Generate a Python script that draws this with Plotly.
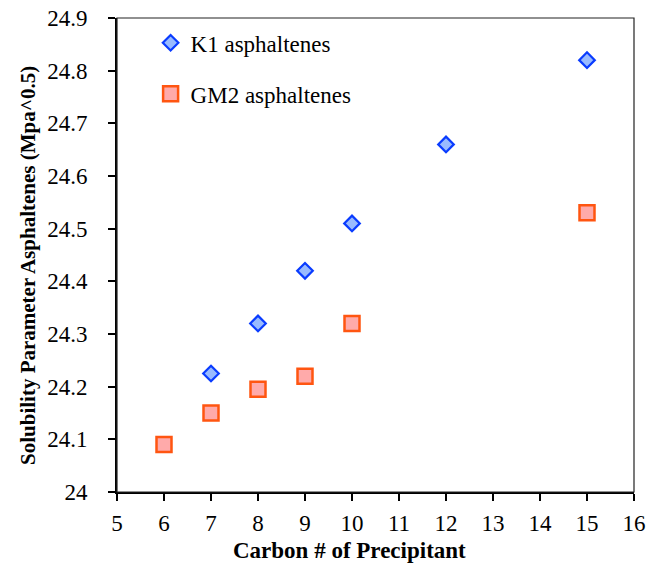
import plotly.graph_objects as go

# Solubility parameter of asphaltenes vs. carbon number of precipitant
k1_carbon = [7, 8, 9, 10, 12, 15]
k1_delta = [24.225, 24.32, 24.42, 24.51, 24.66, 24.82]

gm2_carbon = [6, 7, 8, 9, 10, 15]
gm2_delta = [24.09, 24.15, 24.195, 24.22, 24.32, 24.53]

x_ticks = list(range(5, 17))
y_ticks = [24.0, 24.1, 24.2, 24.3, 24.4, 24.5, 24.6, 24.7, 24.8, 24.9]
y_labels = ["24", "24.1", "24.2", "24.3", "24.4", "24.5", "24.6", "24.7", "24.8", "24.9"]

x_title = "Carbon # of Precipitant"
y_title = "Solubility Parameter Asphaltenes (Mpa^0.5)"

serif = "Liberation Serif"

fig = go.Figure()
fig.add_trace(go.Scatter(
    x=k1_carbon, y=k1_delta, mode="markers", name="K1 asphaltenes",
    legendgroup="k1",
    marker=dict(symbol="diamond", size=12, color="#99bbff",
                line=dict(color="#0a3cff", width=2.2)),
))
fig.add_trace(go.Scatter(
    x=gm2_carbon, y=gm2_delta, mode="markers", name="GM2 asphaltenes",
    legendgroup="gm2",
    marker=dict(symbol="square", size=15, color="#ffaaaa",
                line=dict(color="#ff5511", width=2.5)),
))

fig.update_layout(
    width=647, height=568,
    margin=dict(l=117, r=13, t=18, b=76, autoexpand=False),
    paper_bgcolor="white", plot_bgcolor="white",
    font=dict(family=serif, size=22, color="black"),
    showlegend=True,
    legend=dict(
        x=0.065, y=0.993, xanchor="left", yanchor="top",
        bgcolor="rgba(0,0,0,0)", font=dict(family=serif, size=23),
        traceorder="grouped", tracegroupgap=18, itemwidth=30,
    ),
    xaxis=dict(
        range=[5, 16], tickmode="array", tickvals=x_ticks,
        ticks="outside", ticklen=7, tickwidth=1.5, tickcolor="black",
        showline=True, linecolor="black", linewidth=2,
        showgrid=False, zeroline=False, automargin=False,
        ticklabelstandoff=2,
        tickfont=dict(family=serif, size=23),
    ),
    yaxis=dict(
        range=[24.0, 24.9], tickmode="array", tickvals=y_ticks, ticktext=y_labels,
        ticks="outside", ticklen=7, tickwidth=1.5, tickcolor="black",
        showline=True, linecolor="black", linewidth=2,
        showgrid=False, zeroline=False, automargin=False,
        ticklabelstandoff=16,
        tickfont=dict(family=serif, size=23),
    ),
    annotations=[
        dict(text=f"<b>{x_title}</b>", xref="paper", yref="paper",
             x=0.45, y=-0.124, xanchor="center", yanchor="middle",
             showarrow=False, font=dict(family=serif, size=23)),
        dict(text=f"<b>{y_title}</b>", xref="paper", yref="paper",
             x=-0.172, y=0.477, xanchor="center", yanchor="middle",
             textangle=-90, showarrow=False, font=dict(family=serif, size=21)),
    ],
    shapes=[dict(type="rect", xref="paper", yref="paper", x0=0, y0=0, x1=1, y1=1,
                 line=dict(color="#222222", width=1.2), layer="above")],
)

fig.write_html("out.html")
